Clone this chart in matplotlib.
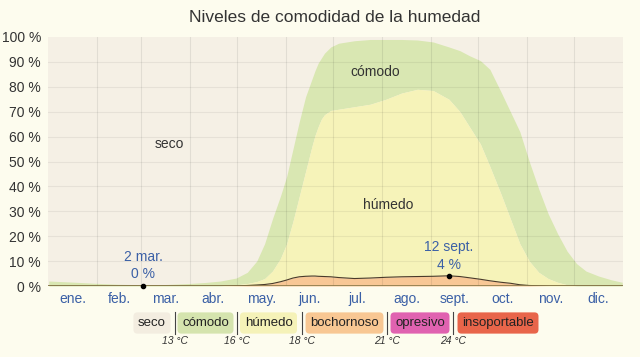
import matplotlib
matplotlib.use("Agg")
import matplotlib.pyplot as plt
import numpy as np

plt.rcParams['font.family'] = ['Liberation Sans', 'DejaVu Sans']

# ---- data (percent of days, cumulative layer tops) ----
days = [1, 15, 30, 45, 61, 75, 90, 100, 110, 120, 127, 133, 138, 143, 148, 152,
        156, 160, 164, 168, 170, 172, 174, 176, 180, 185, 195, 205, 215, 225,
        235, 245, 255, 262, 268, 275, 281, 288, 294, 300, 306, 312, 318, 324,
        330, 336, 342, 350, 358, 365]
comodo_top = [2.0, 1.6, 1.1, 0.7, 0.5, 0.6, 1.0, 1.4, 2.0, 3.2, 5.5, 10, 17, 27,
              36, 44, 55, 66, 76, 83, 86.5, 89.5, 91.5, 93.5, 96, 97.5, 98.5, 99,
              99, 99, 98.8, 98, 96, 94.5, 92.5, 90.5, 87, 78, 70, 62, 50, 39, 29,
              21, 14, 9, 6, 4, 2.5, 1.5]
humedo_top = [0, 0, 0, 0, 0, 0, 0, 0, 0, 0.5, 1, 1.8, 3, 6, 11, 17, 26, 36, 46,
              56, 60.5, 64, 67, 68.8, 70.5, 71, 72, 73, 75, 77.5, 79, 78.5, 75,
              70, 64, 57, 48, 37, 27, 17, 10, 5.5, 3, 1.5, 0.5, 0, 0, 0, 0, 0]
bochornoso_top = [0, 0, 0, 0, 0, 0, 0, 0, 0, 0.1, 0.2, 0.4, 0.6, 1.0, 1.7, 2.4,
                  3.2, 3.7, 3.9, 4.0, 4.0, 3.9, 3.85, 3.8, 3.7, 3.4, 3.0, 3.2,
                  3.5, 3.7, 3.8, 3.9, 4.1, 3.8, 3.3, 2.7, 2.1, 1.5, 1.1, 0.5, 0.2,
                  0.1, 0, 0, 0, 0, 0, 0, 0, 0]

months = ['ene.', 'feb.', 'mar.', 'abr.', 'may.', 'jun.', 'jul.', 'ago.',
          'sept.', 'oct.', 'nov.', 'dic.']
month_len = [31, 28, 31, 30, 31, 30, 31, 31, 30, 31, 30, 31]
yticks = [0, 10, 20, 30, 40, 50, 60, 70, 80, 90, 100]

min_day, min_val, min_label = 61, 0, '2 mar.'
max_day, max_val, max_label = 255, 4.1, '12 sept.'

legend_names = ['seco', 'cómodo', 'húmedo', 'bochornoso', 'opresivo', 'insoportable']
legend_temps = ['13 °C', '16 °C', '18 °C', '21 °C', '24 °C']

# ---- styles ----
fig_bg = '#fdfcee'
col_seco = '#f5f0e5'
col_comodo = '#d9e7b2'
col_humedo = '#f6f3b9'
col_boch = '#f8c795'
legend_cols = ['#f3ede0', '#d5e4ae', '#f5f2b8', '#f8c793', '#e062b0', '#e8654a']
blue = '#3b60a6'
dark = '#333333'

W, H = 640, 357
fig = plt.figure(figsize=(W / 100, H / 100), dpi=100, facecolor=fig_bg)
ax = fig.add_axes([48 / W, 1 - 286 / H, (623 - 48) / W, (286 - 37) / H])
ax.set_facecolor(col_seco)

x = np.array(days) - 0.5
ax.fill_between(x, humedo_top, comodo_top, color=col_comodo, lw=0, zorder=1)
ax.fill_between(x, bochornoso_top, humedo_top, color=col_humedo, lw=0, zorder=1)
ax.fill_between(x, 0, bochornoso_top, color=col_boch, lw=0, zorder=1)
ax.plot(x, bochornoso_top, color='#4a3a2a', lw=0.8, zorder=3)
ax.axhline(0, color='#8a7a4a', lw=1.2, zorder=3)

# grid
bounds = np.cumsum(month_len)[:-1]
for b in bounds:
    ax.axvline(b, color='black', alpha=0.08, lw=0.8, zorder=2)
for t in yticks[1:-1]:
    ax.axhline(t, color='black', alpha=0.06, lw=0.8, zorder=2)

ax.set_xlim(0, 365)
ax.set_ylim(0, 100)
for s in ax.spines.values():
    s.set_visible(False)
starts = np.concatenate([[0], np.cumsum(month_len)[:-1]])
centers = starts + np.array(month_len) / 2
ax.set_xticks(centers)
ax.set_xticklabels(months, color=blue, fontsize=10)
ax.set_yticks(yticks)
ax.set_yticklabels([f'{v} %' for v in yticks], color=dark, fontsize=10)
ax.tick_params(length=0, pad=5)
ax.tick_params(axis='x', pad=4)

# points and annotations
ax.plot([min_day - 0.5, max_day - 0.5], [min_val, max_val], 'o', color='black',
        ms=3, zorder=5, clip_on=False)
ax.text(min_day - 0.5, 11.5, min_label, color=blue, fontsize=10, ha='center', va='center')
ax.text(min_day - 0.5, 4.7, f'{min_val} %', color=blue, fontsize=10, ha='center', va='center')
ax.text(max_day - 0.5, 15.5, max_label, color=blue, fontsize=10, ha='center', va='center')
ax.text(max_day - 0.5, 8.5, f'{round(max_val)} %', color=blue, fontsize=10, ha='center', va='center')

ax.text(77, 57, 'seco', color=dark, fontsize=10, ha='center', va='center')
ax.text(208, 86, 'cómodo', color=dark, fontsize=10, ha='center', va='center')
ax.text(216, 32.5, 'húmedo', color=dark, fontsize=10, ha='center', va='center')

fig.text(335 / W, 1 - 18 / H, 'Niveles de comodidad de la humedad', ha='center',
         va='center', fontsize=12.5, color=dark)

# legend
leg_centers = [152, 205.5, 268.5, 344.5, 420, 498]
seps = [174.5, 237, 302, 387, 453]
ly = 323
for name, c, xc in zip(legend_names, legend_cols, leg_centers):
    fig.text(xc / W, 1 - ly / H, name, ha='center', va='center', fontsize=9.5,
             color='#222222',
             bbox=dict(boxstyle='round,pad=0.35,rounding_size=0.3', fc=c, ec='none'))
for sx, tl in zip(seps, legend_temps):
    fig.add_artist(plt.Line2D([sx / W, sx / W], [1 - 312 / H, 1 - 334 / H],
                              transform=fig.transFigure, color='#444444', lw=0.8))
    fig.text(sx / W, 1 - 341 / H, tl, ha='center', va='center', fontsize=7.5,
             style='italic', color=dark)

fig.savefig('out.png', dpi=100, facecolor=fig_bg)
